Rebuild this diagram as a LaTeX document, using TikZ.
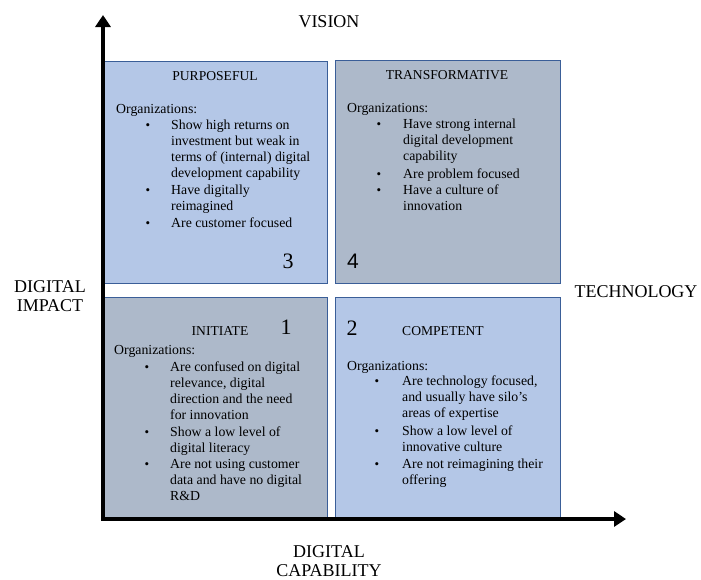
\documentclass[tikz,border=0pt]{standalone}
\usepackage{fontspec}
\setmainfont{Liberation Serif}
\newfontfamily\quadsans{Liberation Sans}
\usetikzlibrary{arrows.meta}
\definecolor{qlight}{HTML}{B4C7E7}
\definecolor{qdark}{HTML}{ADB9CA}
\definecolor{qedge}{HTML}{3A5E98}
% lines stacked from the first baseline down
\newcommand{\stacklines}[2][l]{\begin{tabular}[t]{@{}#1@{}}#2\end{tabular}}
\tikzset{
  quadbox/.style={draw=qedge, line width=0.9pt, anchor=north west, minimum width=223pt, minimum height=222pt, inner sep=0pt},
  lightbox/.style={quadbox, fill=qlight},
  darkbox/.style={quadbox, fill=qdark},
  body/.style={anchor=base west, inner sep=0pt, font=\fontsize{13.8}{16.2}\selectfont},
  heading/.style={anchor=base, inner sep=0pt, font=\fontsize{13.6}{16}\selectfont},
  dot/.style={anchor=base, inner sep=0pt, font=\fontsize{13}{16}\selectfont},
  quadnum/.style={anchor=base, inner sep=0pt, font=\fontsize{22}{22}\selectfont},
  axislabel/.style={anchor=base, inner sep=0pt, font=\fontsize{18}{19.5}\selectfont},
  axis/.style={line width=4pt, {Triangle[length=12pt,width=15pt]}-{Triangle[length=12pt,width=15pt]}}
}
\begin{document}
\begin{tikzpicture}[x=1pt, y=-1pt]
	\useasboundingbox (0,0) rectangle (701,579);
	% quadrants
	\node[lightbox] (purposeful) at (104,61) {};
	\node[darkbox, minimum width=225pt, minimum height=223pt] (transformative) at (335,60) {};
	\node[darkbox, minimum height=221pt] (initiate) at (104,297) {};
	\node[lightbox, minimum width=225pt, minimum height=221pt] (competent) at (335,297) {};
	% axes
	\coordinate (origin) at (103,519);
	\coordinate (ytip) at (103,15);
	\coordinate (xtip) at (626,519);
	\draw[axis] (ytip) -- (origin) -- (xtip);
	\node[axislabel] (vision) at (329,27) {VISION};
	\node[axislabel] (technology) at (636,297) {TECHNOLOGY};
	\node[axislabel] (impact) at (50,292) {\stacklines[c]{DIGITAL\\IMPACT}};
	\node[axislabel] (capability) at (329,557) {\stacklines[c]{DIGITAL\\CAPABILITY}};
	% 3 - purposeful
	\node[heading] (h3) at (215,80) {PURPOSEFUL};
	\node[body] (org3) at (116,113) {Organizations:};
	\node[dot] (d3a) at (148,129) {\textbullet};
	\node[body] (t3a) at (171,129) {\stacklines{Show high returns on\\investment but weak in\\terms of (internal) digital\\development capability}};
	\node[dot] (d3b) at (148,194) {\textbullet};
	\node[body] (t3b) at (171,194) {\stacklines{Have digitally\\reimagined}};
	\node[dot] (d3c) at (148,227) {\textbullet};
	\node[body] (t3c) at (171,227) {Are customer focused};
	\node[quadnum] (n3) at (288,268) {3};
	% 4 - transformative
	\node[heading] (h4) at (447,79) {TRANSFORMATIVE};
	\node[body] (org4) at (347,112) {Organizations:};
	\node[dot] (d4a) at (379,128) {\textbullet};
	\node[body] (t4a) at (403,128) {\stacklines{Have strong internal\\digital development\\capability}};
	\node[dot] (d4b) at (379,178) {\textbullet};
	\node[body] (t4b) at (403,178) {Are problem focused};
	\node[dot] (d4c) at (379,194) {\textbullet};
	\node[body] (t4c) at (403,194) {\stacklines{Have a culture of\\innovation}};
	\node[quadnum, font=\quadsans\fontsize{21}{21}\selectfont] (n4) at (353,268) {4};
	% 1 - initiate
	\node[heading] (h1) at (220,335) {INITIATE};
	\node[quadnum] (n1) at (286,334) {1};
	\node[body] (org1) at (114,354) {Organizations:};
	\node[dot] (d1a) at (147,371) {\textbullet};
	\node[body] (t1a) at (170,371) {\stacklines{Are confused on digital\\relevance, digital\\direction and the need\\for innovation}};
	\node[dot] (d1b) at (147,436) {\textbullet};
	\node[body] (t1b) at (170,436) {\stacklines{Show a low level of\\digital literacy}};
	\node[dot] (d1c) at (147,468) {\textbullet};
	\node[body] (t1c) at (170,468) {\stacklines{Are not using customer\\data and have no digital\\R\&D}};
	% 2 - competent
	\node[quadnum] (n2) at (352,335) {2};
	\node[heading] (h2) at (443,335) {COMPETENT};
	\node[body] (org2) at (347,370) {Organizations:};
	\node[dot] (d2a) at (377,385) {\textbullet};
	\node[body] (t2a) at (402,385) {\stacklines{Are technology focused,\\and usually have silo’s\\areas of expertise}};
	\node[dot] (d2b) at (377,435) {\textbullet};
	\node[body] (t2b) at (402,435) {\stacklines{Show a low level of\\innovative culture}};
	\node[dot] (d2c) at (377,468) {\textbullet};
	\node[body] (t2c) at (402,468) {\stacklines{Are not reimagining their\\offering}};
\end{tikzpicture}
\end{document}
